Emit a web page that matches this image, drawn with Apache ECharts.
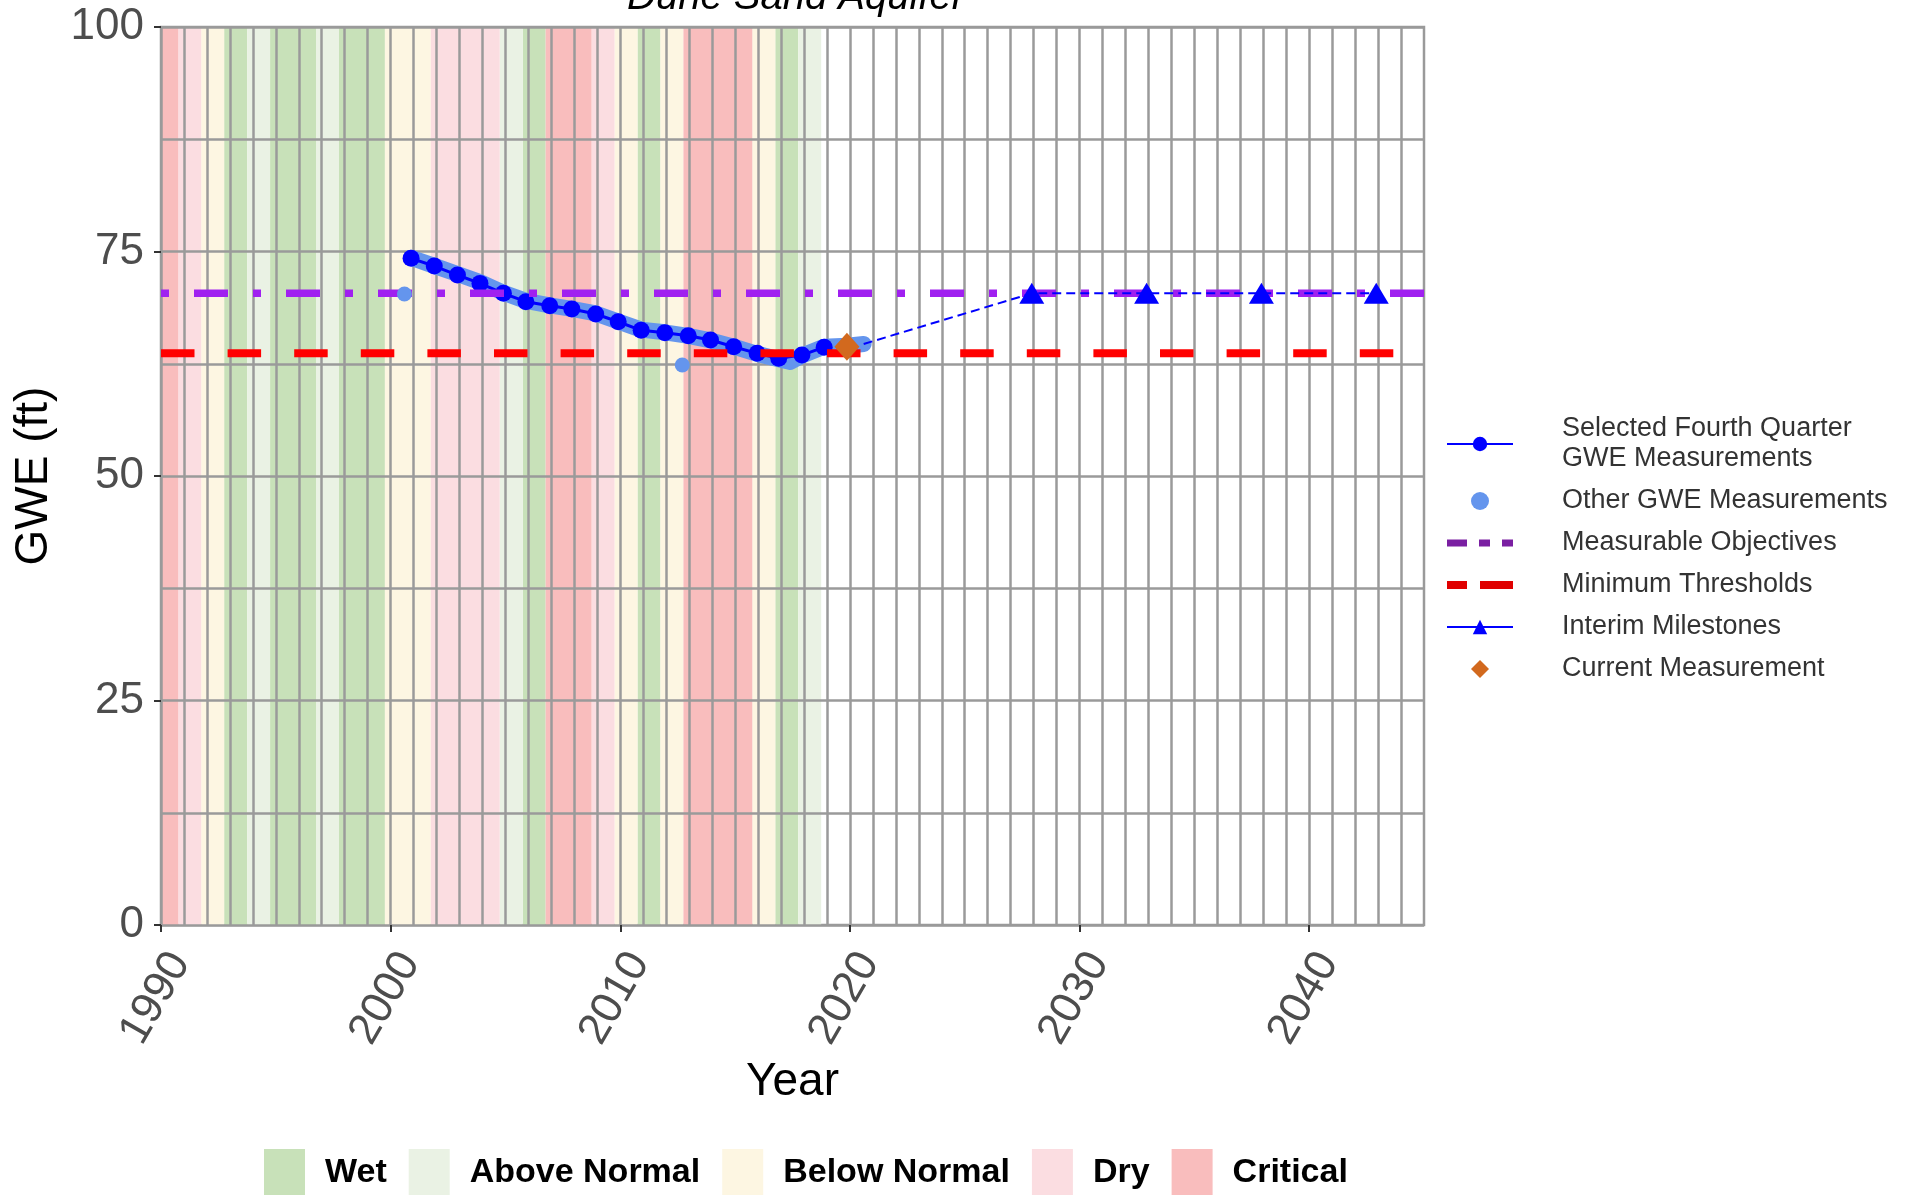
<!DOCTYPE html>
<html>
<head>
    <meta charset="utf-8">
    <style>
        html, body {
            height: 100%;
            margin: 0;
            padding: 0;
            background: #ffffff;
        }

        .container {
            width: 1915px;
            height: 1195px;
        }
    </style>
</head>
<body>
<div id="main" class="container"></div>

<script src="https://cdn.jsdelivr.net/npm/echarts@6/dist/echarts.min.js"></script>
<script type="text/javascript">
// water year types (band for water year N runs from Oct N-1 to Sep N)
var waterYears = [1990, 1991, 1992, 1993, 1994, 1995, 1996, 1997, 1998, 1999,
    2000, 2001, 2002, 2003, 2004, 2005, 2006, 2007, 2008, 2009,
    2010, 2011, 2012, 2013, 2014, 2015, 2016, 2017, 2018];
var yearTypes = ['Critical', 'Dry', 'Below Normal', 'Wet', 'Above Normal', 'Wet', 'Wet', 'Above Normal', 'Wet', 'Wet',
    'Below Normal', 'Below Normal', 'Dry', 'Dry', 'Dry', 'Above Normal', 'Wet', 'Critical', 'Critical', 'Dry',
    'Below Normal', 'Wet', 'Below Normal', 'Critical', 'Critical', 'Critical', 'Below Normal', 'Wet', 'Above Normal'];
var typeNames = ['Wet', 'Above Normal', 'Below Normal', 'Dry', 'Critical'];

// selected fourth quarter measurements
var selYears = [2000.89, 2001.9, 2002.91, 2003.89, 2004.91, 2005.89, 2006.93, 2007.89, 2008.93, 2009.91,
    2010.91, 2011.94, 2012.96, 2013.93, 2014.94, 2015.96, 2016.9, 2017.91, 2018.88];
var selGwe = [74.24, 73.38, 72.38, 71.45, 70.34, 69.41, 68.97, 68.6, 68.04, 67.18,
    66.22, 65.96, 65.62, 65.14, 64.4, 63.66, 63.1, 63.47, 64.35];

// other measurements (the dense run along the line, plus isolated readings)
var otherYears = [2000.6, 2012.7];
var otherGwe = [70.27, 62.36];
var otherRunYears = [2000.89, 2001.9, 2002.91, 2003.89, 2004.91, 2005.89, 2006.93, 2007.89, 2008.93, 2009.91,
    2010.91, 2011.94, 2012.96, 2013.93, 2014.94, 2015.96, 2016.9, 2017.4, 2017.91, 2018.88, 2019.87, 2020.6];
var otherRunGwe = [74.3, 73.4, 72.5, 71.6, 70.4, 69.5, 69.0, 68.6, 68.1, 67.2,
    66.3, 66.0, 65.6, 65.1, 64.4, 63.6, 63.0, 62.7, 63.4, 64.4, 64.5, 64.7];

// sustainability criteria
var milestoneYears = [2020.6, 2027.92, 2032.92, 2037.92, 2042.92];
var milestoneGwe = [64.7, 70.34, 70.34, 70.34, 70.34];
var currentYears = [2019.87];
var currentGwe = [64.4];
var measurableObjective = 70.34;
var minimumThreshold = 63.66;

// axes
var xMin = 1990, xMax = 2045;
var xTickYears = [1990, 2000, 2010, 2020, 2030, 2040];
var yTicks = [0, 25, 50, 75, 100];

var bandColors = {
    'Wet': '#c8e1b9',
    'Above Normal': '#eaf2e4',
    'Below Normal': '#fdf6e2',
    'Dry': '#fbdde1',
    'Critical': '#f9bdbd'
};
var gridColor = '#9a9a9a';
var fontFamily = 'Arial, "Liberation Sans", sans-serif';

function pairs(xs, ys) {
    return xs.map(function (x, i) { return [x, ys[i]]; });
}

// merge consecutive water years of one type into one shaded area
function bandAreas(type) {
    var out = [];
    var last = null;
    waterYears.forEach(function (wy, i) {
        if (yearTypes[i] !== type) { last = null; return; }
        var from = Math.max(wy - 0.25, xMin), to = wy + 0.75;
        if (last) {
            last[1].xAxis = to;
        } else {
            last = [{xAxis: from}, {xAxis: to}];
            out.push(last);
        }
    });
    return out;
}

function createChart() {
    var myChart = echarts.init(document.getElementById('main'));

    var bandSeries = typeNames.map(function (t) {
        return {
            name: t,
            type: 'line',
            data: [],
            color: bandColors[t],
            itemStyle: {color: bandColors[t]},
            markArea: {
                silent: true,
                z: 1,
                itemStyle: {color: bandColors[t], opacity: 1},
                data: bandAreas(t)
            }
        };
    });

    var milestoneData = pairs(milestoneYears, milestoneGwe).map(function (p, i) {
        return i === 0 ? {value: p, symbol: 'none'} : {value: p};
    });

    var dataSeries = [
        {
            name: 'Other GWE Measurements',
            type: 'scatter',
            z: 6,
            symbol: 'circle',
            symbolSize: 15,
            itemStyle: {color: '#6495ed', opacity: 1},
            data: pairs(otherYears, otherGwe)
        },
        {
            name: 'Other GWE Measurements',
            type: 'line',
            z: 3,
            symbol: 'none',
            lineStyle: {color: '#6495ed', width: 16, cap: 'round', join: 'round'},
            itemStyle: {color: '#6495ed'},
            data: pairs(otherRunYears, otherRunGwe)
        },
        {
            name: 'Selected Fourth Quarter\nGWE Measurements',
            type: 'line',
            z: 4,
            symbol: 'circle',
            symbolSize: 17,
            lineStyle: {color: '#0000ff', width: 3},
            itemStyle: {color: '#0000ff'},
            data: pairs(selYears, selGwe)
        },
        {
            name: 'Measurable Objectives',
            type: 'line',
            z: 5,
            symbol: 'none',
            lineStyle: {color: '#a020f0', width: 7.5, type: [8, 25, 34, 25], cap: 'butt'},
            itemStyle: {color: '#a020f0'},
            data: [[xMin, measurableObjective], [xMax, measurableObjective]]
        },
        {
            name: 'Minimum Thresholds',
            type: 'line',
            z: 5,
            symbol: 'none',
            lineStyle: {color: '#ff0000', width: 8, type: [33.5, 33.1], cap: 'butt'},
            itemStyle: {color: '#ff0000'},
            data: [[xMin, minimumThreshold], [xMax, minimumThreshold]]
        },
        {
            name: 'Interim Milestones',
            type: 'line',
            z: 7,
            symbol: 'triangle',
            symbolSize: [25, 21],
            lineStyle: {color: '#0000ff', width: 2, type: [9, 5]},
            itemStyle: {color: '#0000ff'},
            data: milestoneData
        },
        {
            name: 'Current Measurement',
            type: 'scatter',
            z: 10,
            symbol: 'diamond',
            symbolSize: [25, 28],
            itemStyle: {color: '#d2691e', opacity: 1},
            data: pairs(currentYears, currentGwe)
        }
    ];

    var option = {
        animation: false,
        backgroundColor: '#ffffff',
        title: {
            text: 'Dune Sand Aquifer',
            left: 622,
            top: -27,
            textStyle: {
                fontFamily: fontFamily,
                fontStyle: 'italic',
                fontWeight: 'normal',
                fontSize: 40,
                color: '#000000'
            }
        },
        grid: {
            left: 161,
            right: 491,
            top: 27,
            bottom: 270,
            outerBoundsMode: 'none',
            show: true,
            borderColor: gridColor,
            borderWidth: 2.5
        },
        legend: [
            {
                orient: 'vertical',
                left: 1438,
                top: 409,
                itemWidth: 66,
                itemHeight: 18,
                itemGap: 12,
                selectedMode: false,
                symbolKeepAspect: true,
                textStyle: {
                    fontFamily: fontFamily,
                    fontSize: 27,
                    color: '#333333',
                    lineHeight: 30,
                    padding: [0, 0, 0, 44]
                },
                lineStyle: {width: 'inherit'},
                data: [
                    {
                        name: 'Selected Fourth Quarter\nGWE Measurements',
                        lineStyle: {width: 2}
                    },
                    'Other GWE Measurements',
                    {
                        name: 'Measurable Objectives',
                        itemStyle: {color: 'rgba(0,0,0,0)'},
                        lineStyle: {type: [20, 12, 11, 12], color: '#7a1fa2', width: 7}
                    },
                    {
                        name: 'Minimum Thresholds',
                        itemStyle: {color: 'rgba(0,0,0,0)'},
                        lineStyle: {type: [20, 13, 40], color: '#e00000', width: 8}
                    },
                    {
                        name: 'Interim Milestones',
                        lineStyle: {type: 'solid', width: 2}
                    },
                    {
                        name: 'Current Measurement',
                        icon: 'path://M0,-1L1,0L0,1L-1,0Z'
                    }
                ]
            },
            {
                orient: 'horizontal',
                left: 259,
                top: 1144,
                itemWidth: 41,
                itemHeight: 48,
                itemGap: 22,
                icon: 'rect',
                selectedMode: false,
                textStyle: {
                    fontFamily: fontFamily,
                    fontSize: 34,
                    fontWeight: 'bold',
                    color: '#000000',
                    padding: [0, 0, 0, 15]
                },
                data: typeNames
            }
        ],
        xAxis: {
            type: 'value',
            min: xMin,
            max: xMax,
            interval: 10,
            z: 2,
            name: 'Year',
            nameLocation: 'middle',
            nameGap: 126,
            nameTextStyle: {fontFamily: fontFamily, fontSize: 46, color: '#000000'},
            axisLine: {show: false},
            axisTick: {
                show: true,
                length: 7,
                customValues: xTickYears,
                lineStyle: {color: '#333333', width: 2}
            },
            axisLabel: {
                customValues: xTickYears,
                rotate: 60,
                align: 'right',
                verticalAlign: 'top',
                margin: 20,
                fontFamily: fontFamily,
                fontSize: 44,
                color: '#4d4d4d',
                formatter: function (v) { return String(v); }
            },
            splitLine: {show: true, lineStyle: {color: gridColor, width: 2.5}},
            minorTick: {show: false, splitNumber: 10},
            minorSplitLine: {show: true, lineStyle: {color: gridColor, width: 2.5}}
        },
        yAxis: {
            type: 'value',
            min: 0,
            max: 100,
            interval: 25,
            z: 2,
            name: 'GWE (ft)',
            nameLocation: 'middle',
            nameRotate: 90,
            nameGap: 104,
            nameTextStyle: {fontFamily: fontFamily, fontSize: 46, color: '#000000'},
            axisLine: {show: false},
            axisTick: {
                show: true,
                length: 7,
                customValues: yTicks,
                lineStyle: {color: '#333333', width: 2}
            },
            axisLabel: {
                customValues: yTicks,
                margin: 17,
                fontFamily: fontFamily,
                fontSize: 44,
                color: '#4d4d4d',
                formatter: function (v) { return String(v); }
            },
            splitLine: {show: true, lineStyle: {color: gridColor, width: 2.5}},
            minorTick: {show: false, splitNumber: 2},
            minorSplitLine: {show: true, lineStyle: {color: gridColor, width: 2.5}}
        },
        series: bandSeries.concat(dataSeries)
    };

    myChart.setOption(option);
}

createChart();
</script>
</body>
</html>
